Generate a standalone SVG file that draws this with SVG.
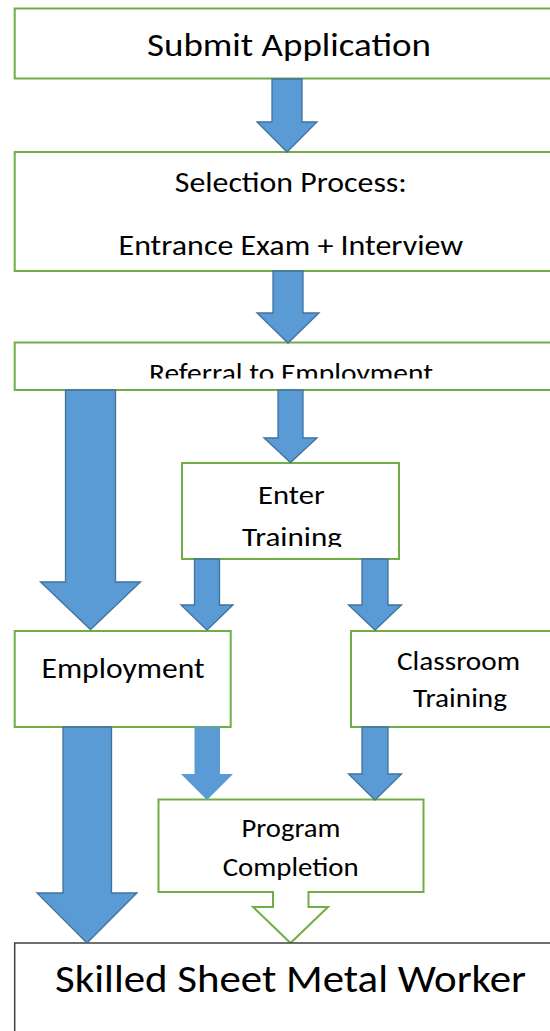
<svg xmlns="http://www.w3.org/2000/svg" width="550" height="1031" viewBox="0 0 550 1031">
<style>
.box{fill:#ffffff;stroke:#70AD47;stroke-width:2}
.final{fill:#ffffff;stroke:#404040;stroke-width:1.5}
.arr{fill:#5B9BD5;stroke:#41719C;stroke-width:1.3;stroke-linejoin:miter}
.arrl{fill:#5B9BD5;stroke:none}
text{font-family:Carlito,Calibri,Lato,"Open Sans",sans-serif;fill:#000000;text-anchor:middle}
</style>
<defs>
<clipPath id="clipRef"><rect x="14" y="343" width="540" height="35.5"/></clipPath>
<clipPath id="clipEnter"><rect x="182" y="463" width="217" height="84"/></clipPath>
</defs>
<rect width="550" height="1031" fill="#ffffff"/>
<g id="node-submit">
<rect class="box" x="14.7" y="8.5" width="560" height="70"/>
<text x="289" y="55.5" font-size="33.5" textLength="284" lengthAdjust="spacingAndGlyphs">Submit Application</text>
</g>
<g id="node-selection">
<rect class="box" x="14.7" y="152" width="560" height="119"/>
<text x="290.8" y="191.7" font-size="29" textLength="232" lengthAdjust="spacingAndGlyphs">Selection Process:</text>
<text x="290.8" y="255" font-size="29" textLength="344.5" lengthAdjust="spacingAndGlyphs">Entrance Exam + Interview</text>
</g>
<g id="node-referral">
<rect class="box" x="14.7" y="342.5" width="560" height="47.5"/>
<text clip-path="url(#clipRef)" x="291" y="382" font-size="26.5" textLength="284" lengthAdjust="spacingAndGlyphs">Referral to Employment</text>
</g>
<g id="node-enter">
<rect class="box" x="182" y="463" width="217" height="96"/>
<text x="291.3" y="504" font-size="27" textLength="66.6" lengthAdjust="spacingAndGlyphs">Enter</text>
<text clip-path="url(#clipEnter)" x="292" y="545.5" font-size="27" textLength="100" lengthAdjust="spacingAndGlyphs">Training</text>
</g>
<g id="node-employment">
<rect class="box" x="14.7" y="631" width="216" height="96"/>
<text x="123" y="678.3" font-size="28.5" textLength="163" lengthAdjust="spacingAndGlyphs">Employment</text>
</g>
<g id="node-classroom">
<rect class="box" x="351" y="631" width="220" height="96"/>
<text x="458.5" y="670" font-size="26" textLength="123" lengthAdjust="spacingAndGlyphs">Classroom</text>
<text x="460" y="707" font-size="26" textLength="94" lengthAdjust="spacingAndGlyphs">Training</text>
</g>
<g id="node-completion">
<path class="box" d="M158.5,799.5 H423.5 V892 H308.5 V907 H328 L290.5,943 L253,907 H273 V892 H158.5 Z"/>
<text x="291" y="837" font-size="26" textLength="99" lengthAdjust="spacingAndGlyphs">Program</text>
<text x="290.7" y="875.5" font-size="26" textLength="136" lengthAdjust="spacingAndGlyphs">Completion</text>
</g>
<g id="node-worker">
<rect class="final" x="14.7" y="943" width="560" height="120"/>
<text x="290.5" y="991.7" font-size="38" textLength="471" lengthAdjust="spacingAndGlyphs">Skilled Sheet Metal Worker</text>
</g>
<g id="connectors">
<path class="arr" d="M272,79 H302 V122 H317 L287,152 L257,122 H272 Z"/>
<path class="arr" d="M273,271 H303 V313 H319 L288,343 L257,313 H273 Z"/>
<path class="arr" d="M65.5,390 H115.5 V582 H140.5 L90.5,629.5 L40.5,582 H65.5 Z"/>
<path class="arr" d="M278,390 H303 V438 H317 L290.5,462.5 L264,438 H278 Z"/>
<path class="arr" d="M194.5,559 H219.5 V605 H233 L207,630 L181,605 H194.5 Z"/>
<path class="arr" d="M362,559 H388 V605 H401.5 L375,630 L348.5,605 H362 Z"/>
<path class="arr" d="M63,727 H111.5 V893 H137 L87,943 L37,893 H63 Z"/>
<path class="arrl" d="M194.5,727 H220 V774 H233 L207,800 L181,774 H194.5 Z"/>
<path class="arr" d="M362,727 H388 V774 H401.5 L375,800 L348.5,774 H362 Z"/>
</g>
</svg>
